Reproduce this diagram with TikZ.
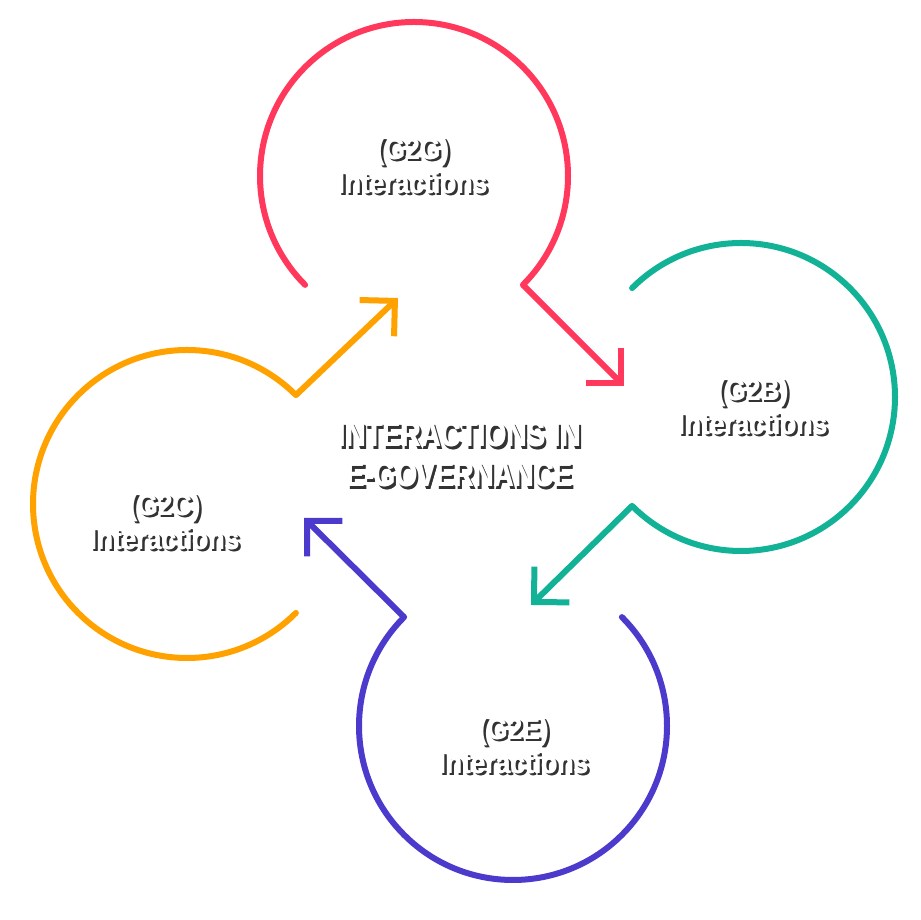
\documentclass[tikz,border=0pt]{standalone}
\usepackage{fontspec}
\usetikzlibrary{arrows.meta}

\newfontfamily\labelfont{Liberation Sans Bold}[FakeStretch=0.88]
\newfontfamily\titlefont{Liberation Sans Bold}[FakeStretch=0.79]

\definecolor{g2gred}{RGB}{255,56,92}
\definecolor{g2bteal}{RGB}{17,178,150}
\definecolor{g2epurple}{RGB}{76,58,204}
\definecolor{g2corange}{RGB}{255,162,0}

% heavy white text with a dark drop shadow
\newcommand{\shtxt}[1]{%
\makebox[0pt][l]{\kern2.4pt\raisebox{-2.2pt}{\textcolor{black!80}{#1}}}%
\makebox[0pt][l]{\kern3.2pt\raisebox{-2.2pt}{\textcolor{black!80}{#1}}}%
\makebox[0pt][l]{\kern0.8pt\textcolor{white}{#1}}%
\textcolor{white}{#1}}

\tikzset{
  loopline/.style={line width=6pt, line join=miter},
  looparrow/.style={-{Straight Barb[length=25pt,width=50pt,line join=miter]}},
  label/.style={align=center, font=\labelfont\fontsize{30}{34}\selectfont},
  title/.style={align=center, font=\titlefont\fontsize{35}{40}\selectfont}
}

\begin{document}
\begin{tikzpicture}[x=1pt,y=1pt]
\useasboundingbox (0,0) rectangle (921,920);

% centres of the four loops
\coordinate (g2g) at (414,744);
\coordinate (g2b) at (741,523);
\coordinate (g2e) at (513,194);
\coordinate (g2c) at (187,416);

% arrow tips
\coordinate (tipgb) at (624,534);
\coordinate (tipbe) at (531,315);
\coordinate (tipec) at (304,402);
\coordinate (tipcg) at (398,622);

% G2G loop
\draw[loopline, g2gred, line cap=round] ([shift={(225:154)}]g2g)
  arc[start angle=225, end angle=-45, radius=154] coordinate (cornerg);
\draw[loopline, looparrow, g2gred] (cornerg) -- (tipgb);

% G2B loop
\draw[loopline, g2bteal, line cap=round] ([shift={(135:154)}]g2b)
  arc[start angle=135, end angle=-135, radius=154] coordinate (cornerb);
\draw[loopline, looparrow, g2bteal] (cornerb) -- (tipbe);

% G2E loop
\draw[loopline, g2epurple, line cap=round] ([shift={(45:154)}]g2e)
  arc[start angle=45, end angle=-225, radius=154] coordinate (cornere);
\draw[loopline, looparrow, g2epurple] (cornere) -- (tipec);

% G2C loop
\draw[loopline, g2corange, line cap=round] ([shift={(-45:154)}]g2c)
  arc[start angle=-45, end angle=-315, radius=154] coordinate (cornerc);
\draw[loopline, looparrow, g2corange] (cornerc) -- (tipcg);

% labels
\node[label] (lg2g) at (412,753) {\shtxt{(G2G)}\\\shtxt{Interactions}};
\node[label] (lg2b) at (752,512) {\shtxt{(G2B)}\\\shtxt{Interactions}};
\node[label] (lg2e) at (513,173) {\shtxt{(G2E)}\\\shtxt{Interactions}};
\node[label] (lg2c) at (164,397) {\shtxt{(G2C)}\\\shtxt{Interactions}};

% centre title
\node[title] (main) at (459,464) {\shtxt{INTERACTIONS IN}\\\shtxt{E-GOVERNANCE}};

\end{tikzpicture}
\end{document}
